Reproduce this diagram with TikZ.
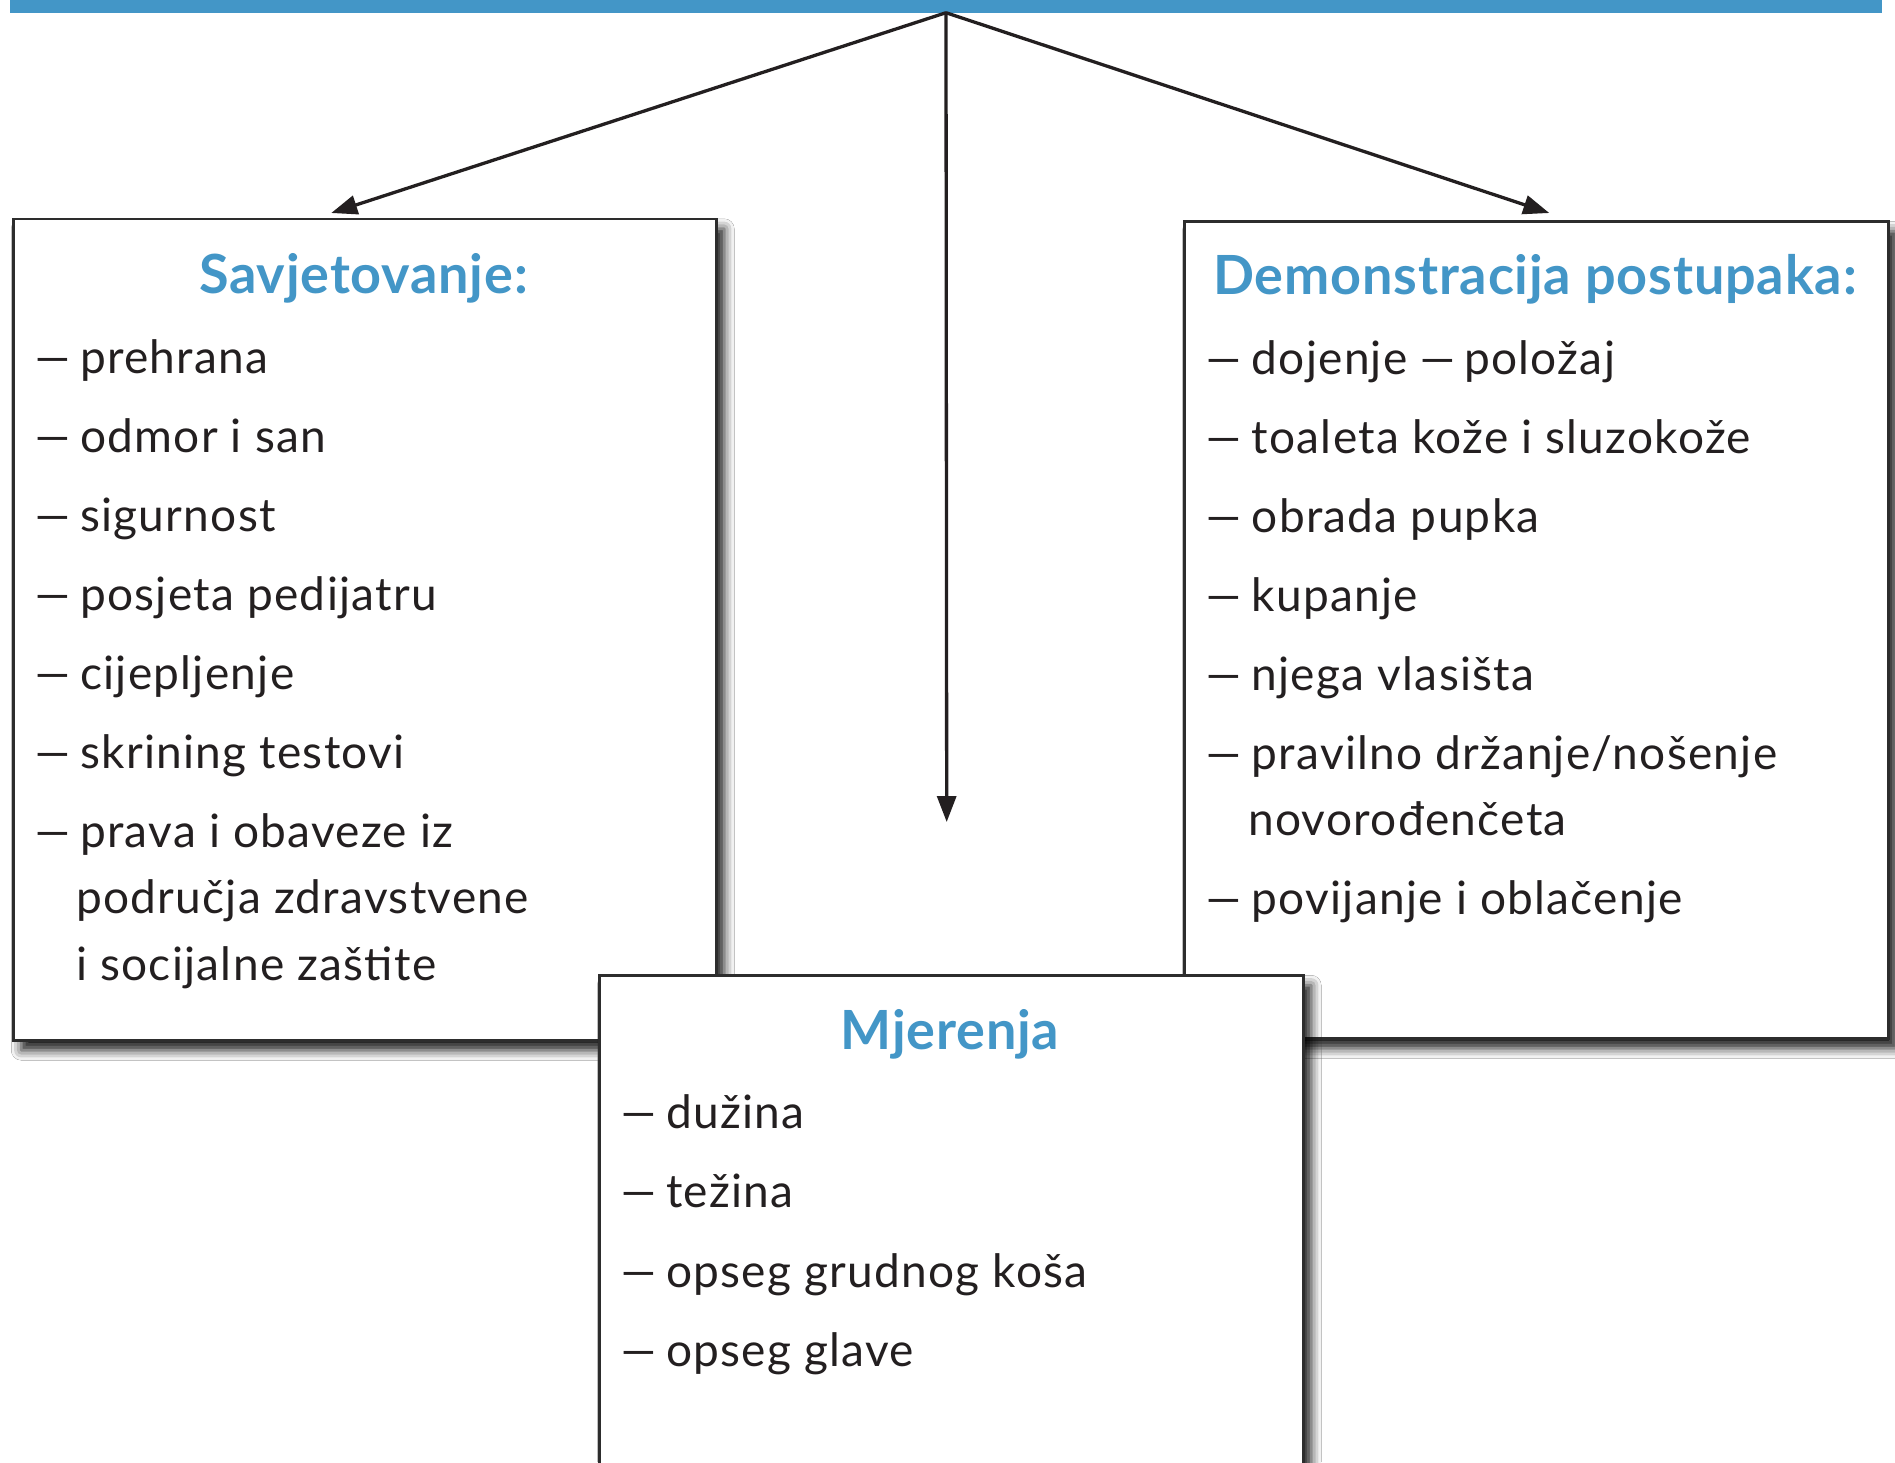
\documentclass[tikz,border=0pt]{standalone}
\usepackage{fontspec}
\setmainfont{Lato}
\usepackage{graphicx}
\usetikzlibrary{arrows.meta,shadows.blur}
\definecolor{hblue}{RGB}{67,150,199}
\definecolor{ink}{RGB}{35,31,32}
\definecolor{frame}{RGB}{45,45,45}
\newcommand\dashitem{\makebox[42pt][l]{\hspace*{-7pt}\scalebox{1.6}[1]{–}}}
\newcommand\middash{\hspace{-4pt}\scalebox{1.6}[1]{–}\hspace{-8pt}}
\begin{document}
\begin{tikzpicture}[x=1pt,y=-1pt,
  box/.style={draw=frame, line width=2.5pt, fill=white, rectangle, inner sep=0pt,
    blur shadow={shadow xshift=8pt, shadow yshift=-10pt, shadow blur radius=10pt, shadow opacity=90}},
  ttl/.style={anchor=base, inner sep=0pt, text=hblue, font=\fontsize{54}{64}\selectfont\bfseries\addfontfeatures{LetterSpace=1.5}},
  itm/.style={anchor=base west, inner sep=0pt, text=ink, font=\fontsize{46}{55}\selectfont\addfontfeatures{LetterSpace=2.8}},
  arr/.style={draw=ink, line width=3.3pt, -{Triangle[length=26pt,width=19pt]}},
]
\useasboundingbox (0,0) rectangle (1895,1462);
\fill[white] (0,0) rectangle (1895,1462);
% top bar
\node[fill=hblue, inner sep=0pt, minimum width=1872pt, minimum height=18pt, anchor=south] (bar) at (946,12.7) {};
% arrows
\coordinate (tipD) at (946.7,822);
\draw[arr] (bar.south) -- (tipD);
% left box
\node[box, minimum width=703pt, minimum height=821.5pt, anchor=north west] (sav) at (12,217.5) {};
\node[ttl] (savT) at (363.5,293) {Savjetovanje:};
\node[itm] (s1) at (38,373) {\dashitem prehrana};
\node[itm] (s2) at (38,452) {\dashitem odmor i san};
\node[itm] (s3) at (38,531) {\dashitem sigurnost};
\node[itm] (s4) at (38,610) {\dashitem posjeta pedijatru};
\node[itm] (s5) at (38,689) {\dashitem cijepljenje};
\node[itm] (s6) at (38,768) {\dashitem skrining testovi};
\node[itm] (s7) at (38,847) {\dashitem prava i obaveze iz};
\node[itm] (s8) at (76,913.5) {područja zdravstvene};
\node[itm] (s9) at (76,980) {i socijalne zaštite};
% right box
\node[box, minimum width=704pt, minimum height=817pt, anchor=north west] (dem) at (1183,220) {};
\node[ttl] (demT) at (1535,294) {Demonstracija postupaka:};
\node[itm] (d1) at (1209.5,374) {\dashitem dojenje \middash{} položaj};
\node[itm] (d2) at (1209.5,453) {\dashitem toaleta kože i sluzokože};
\node[itm] (d3) at (1209.5,532) {\dashitem obrada pupka};
\node[itm] (d4) at (1209.5,611) {\dashitem kupanje};
\node[itm] (d5) at (1209.5,690) {\dashitem njega vlasišta};
\node[itm] (d6) at (1209.5,769) {\dashitem pravilno držanje/nošenje};
\node[itm] (d7) at (1248,835.5) {novorođenčeta};
\node[itm] (d8) at (1209.5,914.5) {\dashitem povijanje i oblačenje};
% bottom box
\node[box, minimum width=704pt, minimum height=540pt, anchor=north west] (mje) at (598,974) {};
\node[ttl] (mjeT) at (950,1049) {Mjerenja};
\node[itm] (m1) at (624,1128) {\dashitem dužina};
\node[itm] (m2) at (624,1207) {\dashitem težina};
\node[itm] (m3) at (624,1287) {\dashitem opseg grudnog koša};
\node[itm] (m4) at (624,1366) {\dashitem opseg glave};
% side arrows
\draw[arr] (bar.south) -- ([xshift=-33.5pt,yshift=4.5pt]sav.north);
\draw[arr] (bar.south) -- ([xshift=13pt,yshift=7pt]dem.north);
\end{tikzpicture}
\end{document}
